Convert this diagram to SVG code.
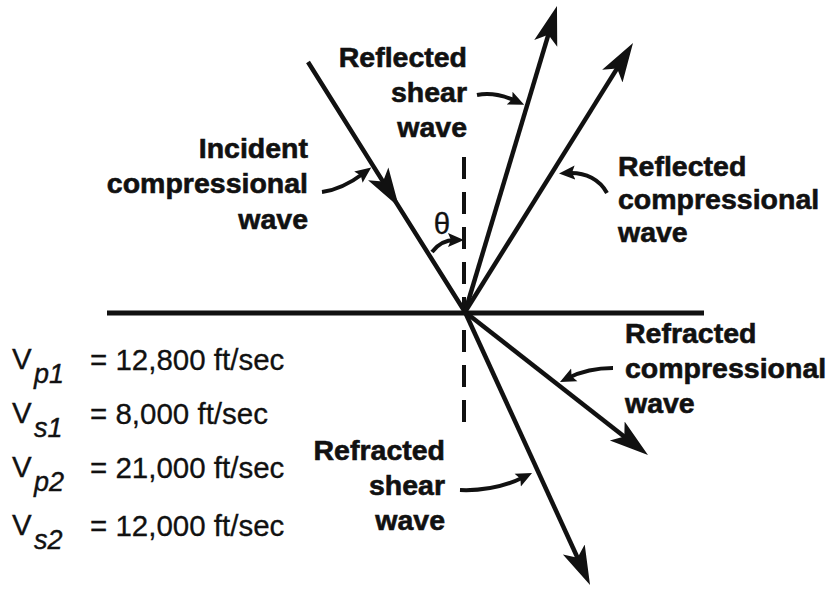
<svg xmlns="http://www.w3.org/2000/svg" width="840" height="589" viewBox="0 0 840 589">
<style>
.lbl{font-family:"Liberation Sans",Arial,Helvetica,sans-serif;font-weight:bold;font-size:28.5px;fill:#111;stroke:#111;stroke-width:0.6}
.val{font-family:"Liberation Sans",Arial,Helvetica,sans-serif;font-size:29.5px;fill:#111;stroke:#111;stroke-width:0.3}
.sub{font-family:"Liberation Sans",Arial,Helvetica,sans-serif;font-style:italic;font-size:27px;fill:#111;stroke:#111;stroke-width:0.4}
.ray{stroke:#111;stroke-width:4.5;fill:none;marker-end:url(#big)}
.lead{stroke:#111;stroke-width:4;fill:none;marker-end:url(#small)}
.dash{stroke:#111;stroke-width:4;stroke-dasharray:22 13;fill:none}
</style>
<defs>
<marker id="big" markerUnits="userSpaceOnUse" markerWidth="50" markerHeight="30" viewBox="0 -15 50 30" refX="12" refY="0" orient="auto">
<path d="M0,-12 L39,0 L0,12 L9,0 Z" fill="#111"/>
</marker>
<marker id="small" markerUnits="userSpaceOnUse" markerWidth="22" markerHeight="18" viewBox="0 -9 22 18" refX="7" refY="0" orient="auto">
<path d="M0,-7 L16,0 L0,7 L3,0 Z" fill="#111"/>
</marker>
</defs>
<rect width="840" height="589" fill="#fff"/>
<g id="connectors">
<line x1="107" y1="313" x2="704" y2="313" stroke="#111" stroke-width="5"/>
<line class="dash" x1="464" y1="157" x2="464" y2="312"/>
<line class="dash" x1="464" y1="330" x2="464" y2="428"/>
<path d="M308,62 L384.6,184.1 L465,312" stroke="#111" stroke-width="4.5" fill="none" marker-mid="url(#big)"/>
<line class="ray" x1="465" y1="312" x2="549.2" y2="31.9"/>
<line class="ray" x1="465" y1="312" x2="618.7" y2="65.9"/>
<line class="ray" x1="465" y1="312" x2="626.7" y2="438.4"/>
<line class="ray" x1="465" y1="312" x2="578.8" y2="560.5"/>
<path class="lead" d="M322,192 C338,190 352,182 364,173"/>
<path class="lead" d="M477,95 C492,92 505,96 516,101"/>
<path class="lead" d="M607,193 C600,180 586,172 568,173"/>
<path class="lead" d="M613,368 C595,368 580,372 568,378"/>
<path class="lead" d="M460,490 C485,491 506,486 524,477"/>
<path class="lead" d="M432,252 Q441,240 455,240"/>
</g>
<g id="theta"><text class="val" x="442" y="234" text-anchor="middle" font-size="26">θ</text></g>
<g id="incident"><text class="lbl" text-anchor="end"><tspan x="308" y="158">Incident</tspan><tspan x="308" y="193">compressional</tspan><tspan x="308" y="229">wave</tspan></text></g>
<g id="refl-shear"><text class="lbl" text-anchor="end"><tspan x="467" y="67">Reflected</tspan><tspan x="467" y="102">shear</tspan><tspan x="467" y="137">wave</tspan></text></g>
<g id="refl-comp"><text class="lbl"><tspan x="618" y="176">Reflected</tspan><tspan x="618" y="209">compressional</tspan><tspan x="618" y="242">wave</tspan></text></g>
<g id="refr-comp"><text class="lbl"><tspan x="625" y="343">Refracted</tspan><tspan x="625" y="378">compressional</tspan><tspan x="625" y="413">wave</tspan></text></g>
<g id="refr-shear"><text class="lbl" text-anchor="end"><tspan x="445" y="460">Refracted</tspan><tspan x="445" y="495">shear</tspan><tspan x="445" y="530">wave</tspan></text></g>
<g id="velocities">
<text class="val" x="12" y="369">V</text><text class="sub" x="34" y="383">p1</text><text class="val" x="90" y="370">= 12,800 ft/sec</text>
<text class="val" x="12" y="423">V</text><text class="sub" x="34" y="437">s1</text><text class="val" x="90" y="424">= 8,000 ft/sec</text>
<text class="val" x="12" y="477">V</text><text class="sub" x="34" y="491">p2</text><text class="val" x="90" y="478">= 21,000 ft/sec</text>
<text class="val" x="12" y="535">V</text><text class="sub" x="34" y="549">s2</text><text class="val" x="90" y="536">= 12,000 ft/sec</text>
</g>
</svg>
